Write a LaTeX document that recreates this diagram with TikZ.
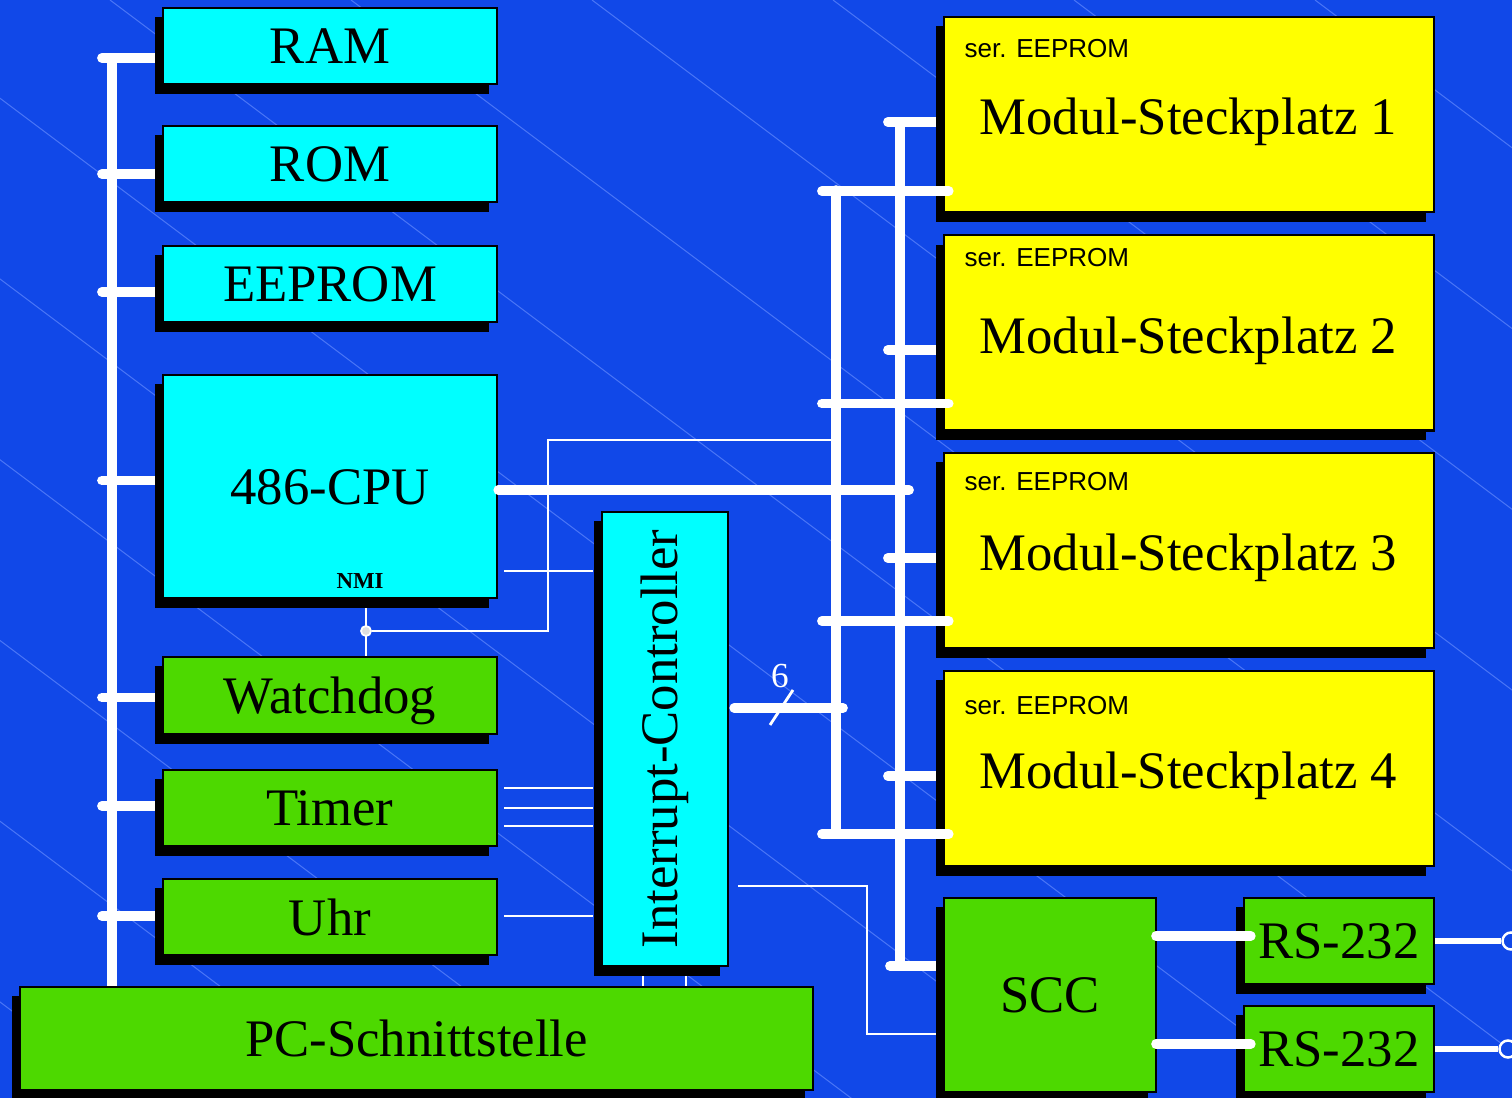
\documentclass[tikz,border=0pt]{standalone}
\usepackage{fontspec}
\setmainfont{Liberation Serif}
\setsansfont{Liberation Sans}
\usetikzlibrary{shadows}

\definecolor{slidebg}{RGB}{17,72,232}
\definecolor{hatchblue}{RGB}{72,116,246}
\definecolor{chipcyan}{RGB}{0,255,255}
\definecolor{slotyellow}{RGB}{255,255,0}
\definecolor{periphgreen}{RGB}{77,217,0}

\pgfdeclarelayer{bg}
\pgfdeclarelayer{wires}
\pgfsetlayers{bg,wires,main}

\newcommand{\boxfont}{\fontsize{15}{18}\selectfont}
\newcommand{\serfont}{\sffamily\fontsize{7.4}{9}\selectfont}

\begin{document}
\begin{tikzpicture}[x=0.01cm, y=-0.01cm,
  box/.style={draw=black, line width=0.6pt, inner sep=0pt, font=\boxfont, text depth=0pt,
    drop shadow={shadow xshift=-0.08cm, shadow yshift=-0.095cm, opacity=1, fill=black}},
  cpart/.style={box, fill=chipcyan, minimum width=3.34cm},
  gpart/.style={box, fill=periphgreen},
  slot/.style={box, fill=slotyellow, minimum width=4.9cm, minimum height=1.95cm},
  bus/.style={white, line width=2.7pt, line cap=round},
  sig/.style={white, line width=0.6pt},
  hatch/.style={hatchblue, line width=0.3pt}]

\useasboundingbox (0,0) rectangle (1512,1098);

% left column
\node[cpart, minimum height=0.76cm] (ram) at (330,46) {RAM};
\node[cpart, minimum height=0.76cm] (rom) at (330,164) {ROM};
\node[cpart, minimum height=0.76cm] (eeprom) at (330,284) {EEPROM};
\node[cpart, minimum height=2.23cm] (cpu) at (330,486.5) {486-CPU};
\node[font=\bfseries\fontsize{6.5}{8}\selectfont, inner sep=0pt] (nmi) at (360,581) {NMI};
\node[gpart, minimum width=3.34cm, minimum height=0.77cm] (wd) at (330,695.5) {Watchdog};
\node[gpart, minimum width=3.34cm, minimum height=0.76cm] (timer) at (330,808) {Timer};
\node[gpart, minimum width=3.34cm, minimum height=0.76cm] (uhr) at (330,917) {Uhr};
\node[gpart, minimum width=7.93cm, minimum height=1.03cm] (pc) at (416.5,1038.5) {PC-Schnittstelle};
\node[cpart, minimum width=1.26cm, minimum height=4.54cm] (ic) at (665,739) {};
\node[rotate=90, font=\boxfont, inner sep=0pt] (ictxt) at (ic.center) {Interrupt-Controller};
\node[circle, draw=white, line width=0.5pt, fill=gray!25, inner sep=0pt, minimum size=0.1cm] (nmidot) at (366,631) {};

% module slots
\foreach \i/\y/\sy in {1/114.5/49, 2/333/258, 3/550.5/482, 4/768.5/706} {
  \node[slot] (m\i) at (1189,\y) {};
  \node[font=\serfont, anchor=west, inner sep=0pt] (ser\i) at (964,\sy) {ser. EEPROM};
  \node[font=\boxfont, anchor=base west, inner sep=0pt] (mtxt\i) at ([shift={(36,119)}]m\i.north west) {Modul-Steckplatz \i};
}

% serial part
\node[gpart, minimum width=2.12cm, minimum height=1.94cm] (scc) at (1050,995) {SCC};
\node[gpart, minimum width=1.9cm, minimum height=0.86cm] (rs1) at (1339,941) {RS-232};
\node[gpart, minimum width=1.9cm, minimum height=0.86cm] (rs2) at (1339,1049) {RS-232};
\node[circle, draw=white, line width=0.7pt, fill=slidebg, inner sep=0pt, minimum size=0.17cm] (jack1) at (1511,941) {};
\node[circle, draw=white, line width=0.7pt, fill=slidebg, inner sep=0pt, minimum size=0.17cm] (jack2) at (1508,1049) {};

\coordinate (lbus) at (112,58);
\coordinate (obus) at (836,190);
\coordinate (obusend) at (836,833);
\coordinate (ibus) at (900,122);
\coordinate (ibusend) at (900,966);
\coordinate (nmicorner) at (548,440);

\begin{pgfonlayer}{bg}
\fill[slidebg] (0,0) rectangle (1512,1098);
\begin{scope}
\clip (0,0) rectangle (1512,1098);
\foreach \k in {-6,...,5}
  \draw[hatch] ({110+241*\k},0) -- ++(1600,1200);
\end{scope}
\end{pgfonlayer}

\begin{pgfonlayer}{wires}
% system bus
\draw[bus] (lbus) -- (lbus |- pc.north);
\foreach \n/\dy in {ram/12, rom/10, eeprom/8, cpu/-6, wd/2, timer/-2, uhr/-1}
  \draw[bus] ([shift={(0,\dy)}]\n.west) -- ++(-60,0);
% slot buses
\draw[bus] (obus) -- (obusend);
\draw[bus] (ibus) -- (ibusend);
\foreach \i/\dy in {1/7.5, 2/17, 3/7.5, 4/7.5}
  \draw[bus] ([shift={(0,\dy)}]m\i.west) -- ++(-55,0);
\draw[bus] ([shift={(0,-29)}]scc.west) -- ++(-53,0);
% interrupt lines
\draw[sig] ([shift={(6,84.5)}]cpu.east) -- ++(89,0);
\foreach \dy in {-20,0,18}
  \draw[sig] ([shift={(6,\dy)}]timer.east) -- ++(89,0);
\draw[sig] ([shift={(6,-1)}]uhr.east) -- ++(89,0);
\foreach \dx in {-22,21}
  \draw[sig] ([shift={(\dx,0)}]ic.south) -- ++(0,21);
\draw[sig] ([shift={(9,147)}]ic.east) -| ([shift={(-76,39)}]scc.west) -- ([shift={(-2,39)}]scc.west);
% NMI
\draw[sig] (nmidot |- cpu.south) -- (nmidot |- wd.north);
\draw[sig] (nmidot) -| (nmicorner) -- (nmicorner -| obus);
\end{pgfonlayer}

\draw[bus] ([shift={(0,3.5)}]cpu.east) -- ++(411,0);
\foreach \i/\dy in {1/-22, 2/-28, 3/-28, 4/-33}
  \draw[bus] ([shift={(6,\dy)}]m\i.south west) -- ++(-127,0);
\draw[bus] ([shift={(5,-31)}]ic.east) -- ++(109,0);
\node[white, font=\fontsize{10}{12}\selectfont, inner sep=0pt] (six) at (780,676) {6};
\draw[white, line width=0.8pt] ([shift={(-10,49)}]six.center) -- ++(23,-35);

\draw[bus] ([shift={(8,-5)}]rs1.west) -- ++(-95,0);
\draw[bus] ([shift={(8,-5)}]rs2.west) -- ++(-95,0);
\draw[white, line width=1.6pt] (rs1.east) -- (jack1);
\draw[white, line width=1.6pt] (rs2.east) -- (jack2);
\end{tikzpicture}
\end{document}
